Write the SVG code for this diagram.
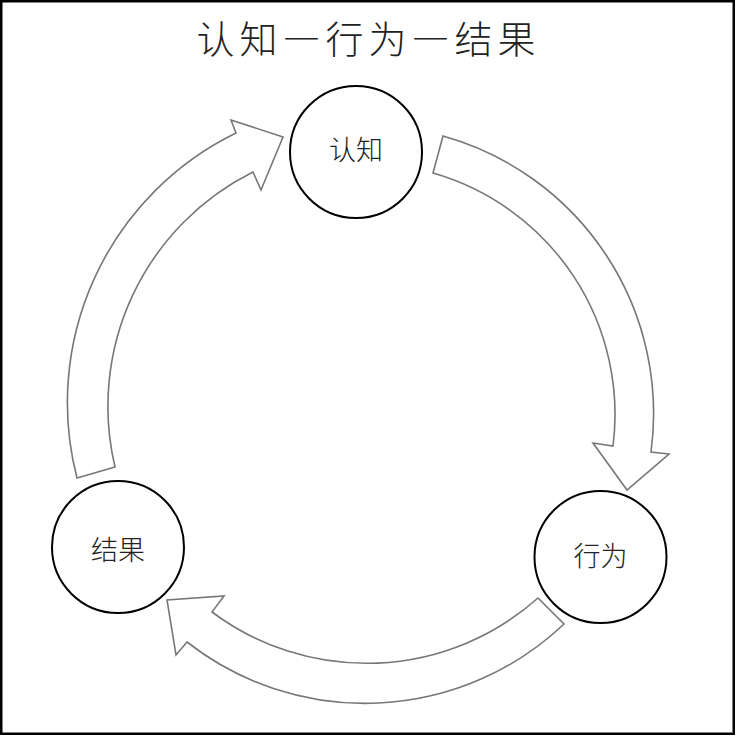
<svg xmlns="http://www.w3.org/2000/svg" width="736" height="736" viewBox="0 0 736 736">
  <style>
    .frame { fill: #ffffff; stroke: #000000; stroke-width: 2.5; }
    .arrow { fill: #ffffff; stroke: #777777; stroke-width: 1.6; stroke-linejoin: miter; }
    .node circle { fill: #ffffff; stroke: #000000; stroke-width: 2; }
    .label { font-family: "Noto Sans CJK SC", "Noto Sans", sans-serif; font-weight: 300; font-size: 27px; fill: #222222; text-anchor: middle; }
    .title { font-family: "Noto Sans CJK SC", "Noto Sans", sans-serif; font-weight: 300; font-size: 38px; fill: #222222; text-anchor: middle; letter-spacing: 5px; font-feature-settings: "fwid" 1; }
  </style>
  <rect class="frame" x="1.25" y="1.25" width="732.5" height="732.5"/>
  <text class="title" x="368.5" y="53">认知—行为—结果</text>
  <g id="connectors">
    <path id="arrow-result-cognition" class="arrow" d="M 115,467 L 77,478 A 300 300 0 0 1 236,133 L 231,120 L 283,137 L 261,190 L 253,172 A 262 262 0 0 0 115,467 Z"/>
    <path id="arrow-cognition-behavior" class="arrow" d="M 443,136 A 288 288 0 0 1 651,452 L 669,454 L 627,490 L 593,443 L 613,446 A 251 251 0 0 0 433,173 Z"/>
    <path id="arrow-behavior-result" class="arrow" d="M 538,598 L 564,624 A 289 289 0 0 1 187,642 L 176,655 L 167,600 L 224,596 L 212,612 A 258 258 0 0 0 538,598 Z"/>
  </g>
  <g id="node-cognition" class="node">
    <circle cx="356" cy="152" r="66"/>
    <text class="label" x="356" y="160">认知</text>
  </g>
  <g id="node-behavior" class="node">
    <circle cx="600.5" cy="557" r="66"/>
    <text class="label" x="600.5" y="566">行为</text>
  </g>
  <g id="node-result" class="node">
    <circle cx="118" cy="547" r="66"/>
    <text class="label" x="118" y="560">结果</text>
  </g>
</svg>
